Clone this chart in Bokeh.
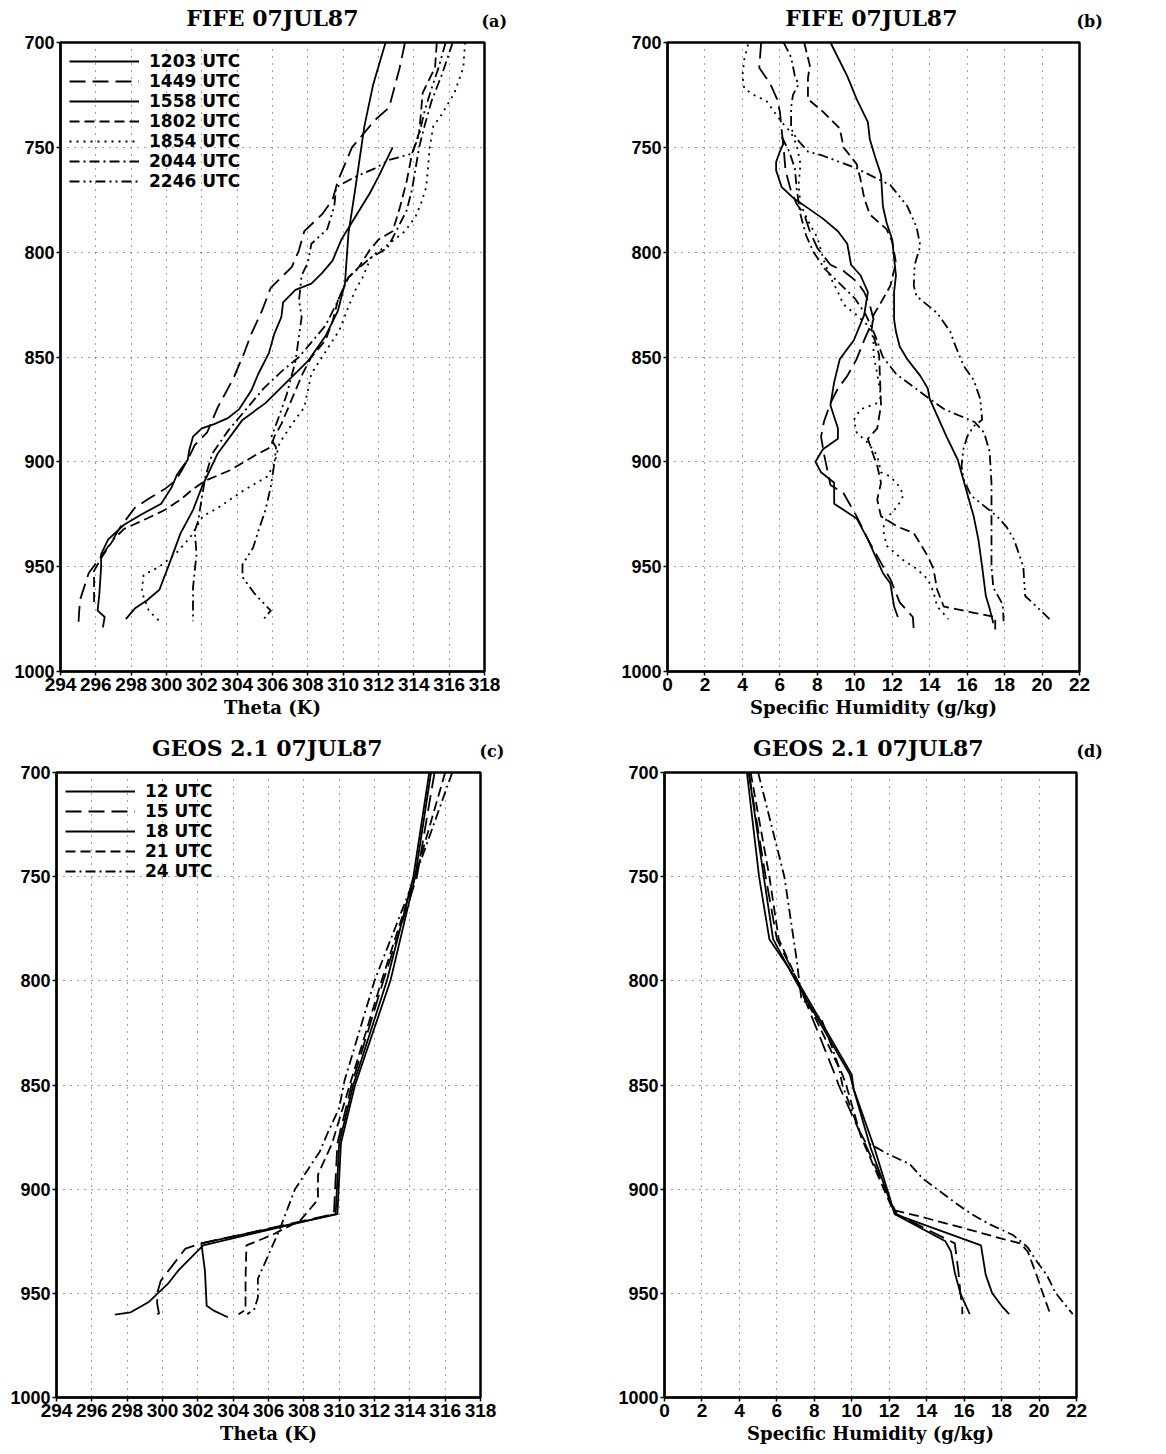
from bokeh.plotting import figure
from bokeh.models import Legend, LegendItem, LinearAxis, FixedTicker, Range1d
from bokeh.layouts import column, row
from bokeh.embed import file_html
from bokeh.resources import INLINE

# ---------------- axes / labels ----------------
THETA_TICKS = list(range(294, 319, 2))
Q_TICKS = list(range(0, 23, 2))
P_TICKS = [700, 750, 800, 850, 900, 950, 1000]

FIFE_LABELS = ["1203 UTC", "1449 UTC", "1558 UTC", "1802 UTC", "1854 UTC", "2044 UTC", "2246 UTC"]
GEOS_LABELS = ["12 UTC", "15 UTC", "18 UTC", "21 UTC", "24 UTC"]

# ---------------- (a) FIFE theta ----------------
a1203_p = [700, 720, 740, 769, 791, 815, 828, 840, 852, 862, 872, 880, 896, 912, 923, 934, 950, 961, 966, 970, 975]
a1203_t = [312.4, 311.7, 311.2, 310.7, 310.3, 310.1, 309.7, 309.0, 308.0, 306.8, 305.6, 304.3, 302.9, 302.0, 301.5, 300.8, 300.1, 299.6, 298.9, 298.2, 297.7]

a1449_p = [700, 712, 731, 737, 743, 750, 758, 766, 775, 782, 790, 799, 807, 812, 817, 828, 839, 848, 860, 874, 886, 892, 899, 905, 909, 913, 917, 922, 931, 938, 944, 953, 966, 979]
a1449_t = [313.5, 313.2, 312.6, 311.8, 311.2, 310.5, 310.1, 309.7, 309.4, 308.8, 307.8, 307.5, 307.1, 306.5, 305.9, 305.4, 304.8, 304.4, 303.8, 302.9, 302.3, 301.6, 301.2, 300.8, 300.5, 299.9, 299.1, 298.2, 297.4, 296.9, 296.4, 295.6, 295.1, 295.0]

a1558_p = [750, 764, 772, 783, 794, 804, 810, 815, 818, 824, 831, 839, 848, 858, 866, 875, 879, 882, 884, 888, 894, 899, 906, 912, 920, 925, 930, 937, 944, 950, 963, 971, 974, 979]
a1558_t = [312.8, 312.0, 311.5, 310.7, 309.9, 309.4, 308.8, 308.2, 307.3, 306.6, 306.5, 306.1, 305.8, 305.2, 304.8, 304.1, 303.5, 302.7, 302.0, 301.5, 301.3, 301.2, 300.6, 300.3, 299.7, 298.6, 297.6, 296.7, 296.3, 296.3, 296.2, 296.1, 296.5, 296.4]

a1802_p = [700, 712, 724, 734, 743, 753, 766, 779, 790, 794, 799, 807, 812, 823, 833, 842, 850, 858, 866, 874, 882, 888, 893, 897, 904, 909, 913, 918, 923, 927, 932, 937, 946, 952, 960, 969]
a1802_t = [315.3, 315.2, 314.5, 314.4, 314.3, 313.9, 313.6, 313.2, 312.8, 312.0, 311.5, 310.9, 310.3, 309.7, 309.4, 309.0, 308.2, 307.7, 307.3, 306.9, 306.5, 306.1, 305.9, 305.0, 303.6, 302.2, 301.5, 300.8, 299.9, 298.9, 297.6, 297.0, 296.3, 295.9, 295.9, 295.9]

a1854_p = [700, 712, 724, 734, 740, 750, 760, 769, 777, 783, 790, 796, 802, 812, 818, 826, 837, 858, 874, 882, 891, 901, 907, 914, 922, 926, 936, 944, 950, 954, 962, 971, 976]
a1854_t = [316.9, 316.8, 316.3, 315.6, 315.1, 314.9, 314.8, 314.7, 314.4, 314.1, 313.5, 312.6, 311.6, 311.1, 310.7, 310.3, 309.8, 308.2, 307.8, 307.1, 306.4, 306.1, 305.7, 304.3, 302.9, 302.05, 301.35, 300.5, 299.6, 298.7, 298.6, 299.0, 299.6]

a2044_p = [700, 715, 728, 740, 750, 760, 770, 780, 790, 798, 803, 812, 825, 835, 843, 850, 857, 865, 875, 885, 896, 907, 917, 928, 933, 944, 952, 960, 976]
a2044_t = [316.2, 315.6, 315.0, 314.6, 314.3, 314.1, 313.9, 313.6, 313.0, 312.5, 311.5, 310.3, 309.6, 309.0, 308.2, 307.5, 306.5, 305.5, 304.5, 303.5, 302.6, 302.2, 302.0, 301.8, 301.6, 301.7, 301.6, 301.5, 301.5]

a2246_p = [700, 712, 722, 733, 744, 753, 756, 760, 764, 769, 778, 789, 796, 805, 811, 823, 831, 852, 868, 880, 889, 893, 901, 912, 923, 933, 941, 949, 955, 963, 971, 976]
a2246_t = [315.8, 315.4, 315.0, 314.6, 314.3, 313.9, 312.6, 311.8, 310.7, 309.6, 309.5, 309.1, 308.2, 308.0, 307.65, 307.5, 307.65, 307.3, 306.8, 306.3, 305.9, 306.2, 306.1, 305.9, 305.6, 305.2, 304.9, 304.3, 304.3, 305.0, 305.9, 305.4]

# ---------------- (b) FIFE specific humidity ----------------
b1203_p = [700, 716, 727, 738, 746, 755, 763, 778, 786, 794, 803, 811, 819, 832, 838, 845, 851, 859, 865, 870, 878, 888, 899, 915, 926, 937, 950, 964, 970, 977]
b1203_q = [8.7, 9.6, 10.1, 10.7, 10.8, 11.1, 11.4, 11.5, 11.7, 12.0, 12.1, 12.2, 12.1, 12.1, 12.2, 12.4, 12.8, 13.5, 13.9, 14.0, 14.4, 14.9, 15.5, 16.0, 16.35, 16.6, 16.8, 17.0, 17.2, 17.4]

b1449_p = [700, 712, 720, 727, 733, 742, 750, 761, 771, 777, 782, 790, 798, 806, 809, 814, 819, 825, 832, 842, 851, 859, 865, 872, 881, 888, 896, 911, 915, 926, 937, 945, 956, 967, 974, 980]
b1449_q = [5.0, 4.9, 5.5, 5.85, 6.0, 6.1, 6.2, 6.3, 6.6, 6.9, 7.3, 7.6, 8.0, 8.7, 9.4, 10.1, 10.5, 10.8, 11.0, 10.5, 10.1, 9.6, 9.1, 8.7, 8.35, 8.2, 8.35, 8.7, 9.4, 10.1, 10.7, 11.2, 11.9, 12.4, 13.1, 13.15]

b1558_p = [748, 752, 757, 761, 769, 774, 779, 784, 790, 796, 806, 811, 819, 830, 842, 851, 862, 873, 884, 889, 894, 900, 905, 910, 920, 927, 937, 945, 953, 958, 969, 974]
b1558_q = [6.2, 6.0, 5.8, 5.8, 6.1, 6.7, 7.5, 8.3, 9.1, 9.6, 9.8, 10.3, 10.7, 10.5, 9.95, 9.2, 8.9, 8.7, 9.1, 9.1, 8.3, 7.9, 8.2, 8.9, 8.9, 10.1, 10.7, 11.1, 11.5, 11.9, 12.1, 12.3]

b1802_p = [700, 711, 717, 727, 733, 741, 750, 758, 765, 774, 782, 789, 795, 805, 816, 824, 830, 837, 849, 873, 884, 889, 897, 902, 910, 918, 926, 931, 934, 945, 951, 961, 969, 972, 974, 980]
b1802_q = [7.3, 7.6, 7.5, 7.5, 8.3, 9.2, 9.4, 10.1, 10.3, 10.5, 10.8, 11.7, 12.0, 12.2, 11.9, 11.4, 11.0, 10.9, 11.3, 11.4, 11.2, 10.7, 11.0, 11.2, 11.4, 11.2, 11.4, 12.3, 13.15, 13.9, 14.2, 14.4, 14.75, 16.35, 17.5, 17.5]

b1854_p = [701, 708, 716, 722, 725, 728, 735, 739, 743, 749, 758, 768, 777, 785, 793, 804, 812, 819, 825, 830, 835, 841, 849, 858, 869, 872, 875, 880, 886, 891, 897, 905, 907, 912, 916, 921, 927, 932, 940, 947, 951, 956, 962, 969, 974, 975]
b1854_q = [4.3, 4.1, 4.0, 4.1, 4.6, 5.3, 5.85, 6.2, 6.6, 6.9, 7.1, 7.0, 7.1, 7.5, 8.0, 8.35, 8.7, 9.1, 9.4, 10.1, 10.7, 11.0, 11.0, 11.2, 11.4, 11.2, 10.3, 9.95, 10.1, 10.7, 11.2, 11.4, 11.9, 12.4, 12.6, 12.3, 11.7, 11.5, 11.7, 12.6, 13.3, 13.9, 14.2, 14.4, 14.9, 15.0]

b2044_p = [745, 752, 760, 770, 782, 792, 800, 808, 815, 822, 830, 840, 850, 858, 864, 870, 875, 878, 881, 886, 895, 910, 930, 950, 960, 968, 976]
b2044_q = [6.1, 6.5, 6.8, 6.9, 7.1, 7.4, 7.8, 8.4, 9.2, 10.0, 10.6, 11.1, 11.5, 12.2, 13.1, 14.0, 14.8, 15.6, 16.4, 16.9, 17.2, 17.3, 17.3, 17.3, 17.4, 17.9, 17.95]

b2246_p = [700, 707, 716, 720, 725, 731, 741, 746, 752, 754, 760, 765, 768, 778, 788, 797, 806, 816, 821, 829, 838, 843, 854, 861, 870, 880, 883, 888, 894, 902, 908, 916, 921, 926, 931, 937, 950, 964, 969, 975]
b2246_q = [6.2, 6.6, 6.8, 7.0, 6.7, 6.6, 6.6, 6.9, 7.5, 8.3, 10.1, 11.2, 11.9, 12.8, 13.3, 13.5, 13.2, 13.15, 13.3, 14.4, 15.1, 15.3, 15.8, 16.35, 16.7, 16.8, 16.35, 16.0, 15.8, 15.7, 15.8, 16.2, 16.9, 17.6, 18.1, 18.5, 19.0, 19.1, 19.7, 20.4]

# ---------------- (c) GEOS theta ----------------
c12_p = [700, 750, 800, 850, 878, 912, 927, 939, 945.5, 950.3, 954.3, 959.1, 960.2]
c12_t = [315.1, 314.2, 312.7, 310.8, 310.0, 309.8, 302.3, 300.9, 300.3, 299.7, 299.2, 298.2, 297.3]
c15_p = [700, 750, 800, 850, 878, 912, 926, 928.5, 944, 950, 955, 959.6, 960.7]
c15_t = [315.4, 314.4, 312.5, 310.7, 309.9, 309.7, 302.2, 301.3, 299.9, 299.7, 299.7, 299.8, 299.5]
c18_p = [700, 750, 800, 850, 878, 912, 926, 939, 956, 958.3, 961.5]
c18_t = [315.2, 314.3, 312.9, 310.9, 310.1, 309.9, 302.2, 302.4, 302.5, 302.9, 303.7]
c21_p = [700, 750, 800, 850, 878, 893, 905, 915, 922, 927, 943, 958, 960]
c21_t = [316.0, 314.3, 312.4, 310.6, 309.6, 308.8, 308.8, 307.8, 306.2, 304.75, 304.7, 304.7, 304.3]
c24_p = [700, 750, 800, 848, 861, 874, 882, 900, 920, 943, 952, 957.5, 960]
c24_t = [316.4, 314.3, 312.0, 310.3, 310.0, 309.3, 308.9, 307.5, 306.6, 305.4, 305.4, 305.2, 304.8]

# ---------------- (d) GEOS specific humidity ----------------
d12_p = [700, 750, 780, 800, 845, 852, 880, 912, 925, 930, 940, 950, 956, 960]
d12_q = [4.4, 5.05, 5.6, 7.1, 10.0, 10.1, 11.2, 12.3, 15.0, 15.3, 15.5, 15.8, 16.1, 16.3]
d15_p = [700, 750, 780, 800, 845, 850, 872, 912, 926, 940, 950, 956, 960]
d15_q = [4.5, 5.4, 6.0, 7.1, 9.1, 9.3, 10.4, 12.4, 15.5, 15.7, 15.8, 15.9, 15.9]
d18_p = [700, 750, 780, 800, 845, 852, 880, 912, 927, 941, 950, 956, 960]
d18_q = [4.5, 5.3, 5.8, 7.0, 9.9, 10.1, 11.0, 12.3, 16.9, 17.15, 17.5, 18.0, 18.4]
d21_p = [700, 750, 780, 800, 845, 850, 875, 910, 913, 919, 924, 926, 930, 942, 950, 960]
d21_q = [4.6, 5.6, 6.1, 7.1, 9.5, 9.7, 10.5, 12.2, 13.6, 16.1, 18.1, 19.0, 19.4, 19.9, 20.2, 20.6]
d24_p = [700, 750, 790, 808, 819, 827, 841, 850, 872, 877, 883, 888, 895, 899, 907, 912, 917, 922, 926, 928, 935, 941, 950, 960]
d24_q = [5.0, 6.4, 7.06, 7.3, 8.4, 8.75, 9.3, 9.5, 10.4, 10.7, 11.9, 13.1, 13.8, 14.4, 15.6, 16.4, 17.4, 18.6, 19.15, 19.4, 19.9, 20.4, 20.9, 21.8]

# ---------------- styling ----------------
FIFE_DASH = ["solid", "16 7", "solid", "10 5", "2 5", "10 4 2 4", "10 4 2 4 2 4"]
GEOS_DASH = ["solid", "16 7", "solid", "10 5", "10 4 2 4"]
SERIF = "DejaVu Serif"
SANS = "Liberation Sans"


def header(w, h, title, title_right, title_y, tag, tag_left, tag_y):
    """Text strip above a panel: the title ends at title_right, the tag starts at tag_left.
    Both are drawn as side-panel texts so that nothing is clipped."""
    hp = figure(width=w, height=h, x_range=Range1d(0, 1), y_range=Range1d(h, 0),
                output_backend="svg", toolbar_location=None, title=None,
                min_border_left=title_right, min_border_right=w - tag_left,
                min_border_top=0, min_border_bottom=0,
                x_axis_type=None, y_axis_type=None)
    hp.outline_line_color = None
    hp.background_fill_color = "white"
    hp.border_fill_color = "white"
    for loc, y, txt, size in (("left", title_y, title, "22px"), ("right", tag_y, tag, "16px")):
        ax = LinearAxis(ticker=FixedTicker(ticks=[y]), major_label_overrides={y: txt})
        ax.axis_line_color = None
        ax.major_tick_line_color = None
        ax.minor_tick_line_color = None
        ax.major_tick_in = 0
        ax.major_tick_out = 0
        ax.major_label_standoff = 0
        ax.major_label_text_font = SERIF
        ax.major_label_text_font_style = "bold"
        ax.major_label_text_font_size = size
        ax.major_label_text_color = "black"
        hp.add_layout(ax, loc)
    return hp


def panel(xr, xticks, xlabel, w, h, bl, br, bt, bb, series, dashes, labels=None):
    p = figure(width=w, height=h, x_range=Range1d(*xr), y_range=Range1d(1000, 700),
               output_backend="svg", toolbar_location=None, title=None,
               min_border_left=bl, min_border_right=br,
               min_border_top=bt, min_border_bottom=bb)
    p.background_fill_color = "white"
    p.border_fill_color = "white"
    p.outline_line_color = "black"
    p.outline_line_width = 2.5
    p.outline_line_alpha = 1.0
    p.xaxis.ticker = FixedTicker(ticks=xticks)
    p.yaxis.ticker = FixedTicker(ticks=P_TICKS)
    for ax in (p.xaxis[0], p.yaxis[0]):
        ax.axis_line_width = 2
        ax.axis_line_color = "black"
        ax.major_tick_line_width = 1.5
        ax.major_tick_line_color = "black"
        ax.major_tick_in = 0
        ax.major_tick_out = 4
        ax.minor_tick_line_color = None
        ax.major_label_text_font = SANS
        ax.major_label_text_font_style = "bold"
        ax.major_label_text_color = "black"
        ax.major_label_standoff = 2
    p.xaxis.major_label_text_font_size = "19px"
    p.yaxis.major_label_text_font_size = "18px"
    p.xaxis.axis_label = xlabel
    p.xaxis.axis_label_text_font = SERIF
    p.xaxis.axis_label_text_font_style = "bold"
    p.xaxis.axis_label_text_font_size = "18px"
    p.xaxis.axis_label_text_color = "black"
    p.xaxis.axis_label_standoff = 3
    for g in (p.xgrid[0], p.ygrid[0]):
        g.grid_line_color = "#222222"
        g.grid_line_dash = "1 6"
        g.grid_line_width = 1
        g.grid_line_alpha = 0.85
    p.xgrid[0].ticker = FixedTicker(ticks=xticks)
    p.ygrid[0].ticker = FixedTicker(ticks=P_TICKS)

    rends = []
    for (xs, ps), dash in zip(series, dashes):
        r = p.line(xs, ps, line_color="black", line_width=1.8, line_dash=dash,
                   line_join="round")
        rends.append(r)

    if labels:
        items = [LegendItem(label=lab, renderers=[r]) for lab, r in zip(labels, rends)]
        lg = Legend(items=items, location="top_left", glyph_width=70, glyph_height=20,
                    label_height=20, spacing=0, padding=2, margin=9, label_standoff=10,
                    background_fill_alpha=0.0, border_line_color=None,
                    label_text_font="DejaVu Sans", label_text_font_style="bold",
                    label_text_font_size="17px", label_text_color="black")
        p.add_layout(lg)
    return p


# column 1: root x 0..604, column 2: root x 604..1150
ha = header(604, 31, "FIFE 07JUL87", 358, 17, "(a)", 481, 21)
hb = header(546, 31, "FIFE 07JUL87", 353, 17, "(b)", 472, 21)
hc = header(604, 31, "GEOS 2.1 07JUL87", 382, 17, "(c)", 479, 21)
hd = header(546, 31, "GEOS 2.1 07JUL87", 379, 17, "(d)", 472, 21)

fa = panel((294, 318), THETA_TICKS, "Theta (K)", 604, 699, 60, 120, 11, 59,
           [(a1203_t, a1203_p), (a1449_t, a1449_p), (a1558_t, a1558_p), (a1802_t, a1802_p),
            (a1854_t, a1854_p), (a2044_t, a2044_p), (a2246_t, a2246_p)],
           FIFE_DASH, FIFE_LABELS)

fb = panel((0, 22), Q_TICKS, "Specific Humidity (g/kg)", 546, 699, 63, 71, 11, 59,
           [(b1203_q, b1203_p), (b1449_q, b1449_p), (b1558_q, b1558_p), (b1802_q, b1802_p),
            (b1854_q, b1854_p), (b2044_q, b2044_p), (b2246_q, b2246_p)],
           FIFE_DASH)

fc = panel((294, 318), THETA_TICKS, "Theta (K)", 604, 686, 56, 124, 11, 50,
           [(c12_t, c12_p), (c15_t, c15_p), (c18_t, c18_p), (c21_t, c21_p), (c24_t, c24_p)],
           GEOS_DASH, GEOS_LABELS)

fd = panel((0, 22), Q_TICKS, "Specific Humidity (g/kg)", 546, 686, 60, 74, 11, 50,
           [(d12_q, d12_p), (d15_q, d15_p), (d18_q, d18_p), (d21_q, d21_p), (d24_q, d24_p)],
           GEOS_DASH)

layout = column(row(ha, hb), row(fa, fb), row(hc, hd), row(fc, fd))
open("out.html", "w").write(file_html(layout, INLINE))
